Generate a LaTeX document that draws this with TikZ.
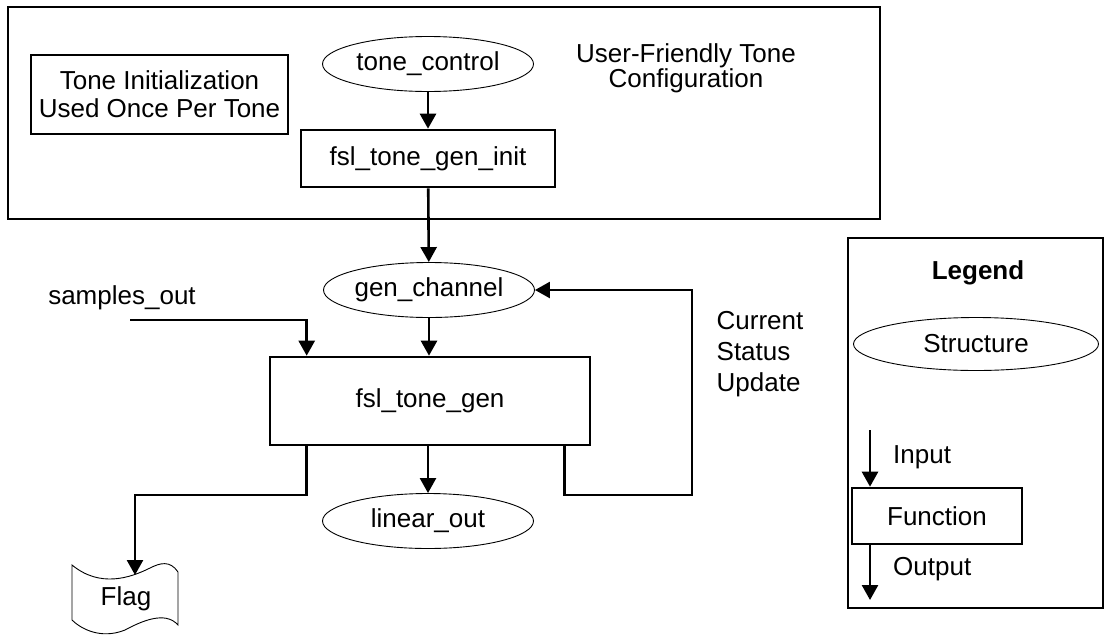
\documentclass[tikz,border=0pt]{standalone}
\usepackage{fontspec}
\setmainfont{Liberation Sans}
\usetikzlibrary{shapes.geometric,arrows.meta}
\begin{document}
\begin{tikzpicture}[x=1pt,y=-1pt,
  font=\fontsize{26}{28}\selectfont,
  frame/.style={draw,line width=2.6pt},
  funcbox/.style={draw,line width=2.6pt,inner sep=0pt},
  struct/.style={draw,ellipse,line width=0.9pt,inner sep=0pt,minimum width=211pt,minimum height=55pt},
  conn/.style={line width=2.6pt,-{Triangle[width=16pt,length=15pt]}},
  label/.style={inner sep=0pt,align=left}]
\useasboundingbox (0,0) rectangle (1110,635);

% initialisation block
\draw[frame] (8,7) rectangle (880,219);
\node[funcbox,align=center,minimum width=257pt,minimum height=79pt,
      font=\fontsize{26}{28}\selectfont] (tinit) at (159.5,94.5)
      {Tone Initialization\\Used Once Per Tone};
\node[struct] (tc) at (428,64) {tone\_control};
\node[funcbox,minimum width=254pt,minimum height=57pt] (tgi) at (428,158.5) {fsl\_tone\_gen\_init};
\node[label,align=center,font=\fontsize{26}{25}\selectfont] (uf) at (686,68)
      {User-Friendly Tone\\Configuration};

% generator loop
\node[struct] (gc) at (429,290) {gen\_channel};
\node[funcbox,minimum width=320pt,minimum height=88pt] (tg) at (430,401) {fsl\_tone\_gen};
\node[struct] (lo) at (428,521) {linear\_out};
\node[label] (so) at (122,298) {samples\_out};
\node[label,font=\fontsize{26}{31}\selectfont] (csu) at (760,354) {Current\\Status\\Update};

% flag (document-style shape)
\draw[line width=0.9pt] (72,565)
   .. controls (100,588) and (130,578) .. (150,568)
   .. controls (160,563) and (170,560) .. (178,572)
   -- (178,625)
   .. controls (165,610) and (140,622) .. (125,630)
   .. controls (100,640) and (80,628) .. (72,620) -- cycle;
\node[inner sep=0pt] (flag) at (126,599) {Flag};
\coordinate (flagin) at (135,575);

\coordinate (soin) at (130,320);
\coordinate (loopc) at (692,495);

\draw[conn] (tc) -- (tgi);
\draw[conn] (tgi) -- (gc);
\draw[conn] (gc) -- (tg.north -| gc.south);
\draw[conn] (soin) -| ([xshift=38pt]tg.north west);
\draw[conn] (tg.south -| lo.north) -- (lo);
\draw[conn] ([xshift=38pt]tg.south west) |- (flagin |- loopc) -- (flagin);
\draw[conn] ([xshift=-27pt]tg.south east) |- (loopc) |- (gc.east);

% legend
\draw[frame] (848,238) rectangle (1103,608);
\node[inner sep=0pt,font=\fontsize{26}{28}\selectfont\bfseries] (lg) at (978,273) {Legend};
\node[struct,minimum width=245pt,minimum height=53pt] (ls) at (976,344) {Structure};
\node[funcbox,minimum width=170pt,minimum height=56pt] (lf) at (937,516) {Function};
\coordinate (lin) at (870,430);
\coordinate (lout) at (870,600);
\draw[conn] (lin) -- (lin |- lf.north);
\draw[conn] (lin |- lf.south) -- (lout);
\node[label,anchor=west] (li) at (893,457) {Input};
\node[label,anchor=west] (lo2) at (893,569) {Output};
\end{tikzpicture}
\end{document}
